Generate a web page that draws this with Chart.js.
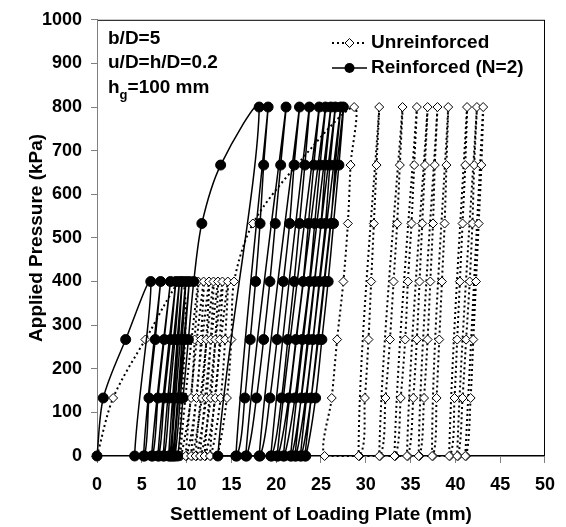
<!DOCTYPE html>
<html>
<head>
<meta charset="utf-8">
<script src="https://cdn.jsdelivr.net/npm/chart.js@4/dist/chart.umd.min.js"></script>
<style>
  html, body { margin: 0; padding: 0; background: #fff; }
  #wrap { width: 566px; height: 527px; }
</style>
</head>
<body>
<div id="wrap"><canvas id="chart" width="566" height="527"></canvas></div>
<script>
// --- DATA ---

// Reinforced (N=2): settlement (mm) and pressure (kPa), in test order
const reinfX = [
  0, 0.7, 3.2, 6.0, 4.2,
  5.3, 5.8, 6.5, 7.1, 5.2,
  6.2, 6.8, 7.5, 8.2, 6.1,
  6.9, 7.5, 8.2, 8.8, 6.8,
  7.5, 8.1, 8.7, 9.2, 7.4,
  8.1, 8.6, 9.1, 9.5, 8.0,
  8.4, 9.0, 9.5, 9.9, 8.3,
  8.7, 9.3, 9.8, 10.3, 8.6,
  9.0, 9.6, 10.2, 10.8,
  11.7, 13.8, 18.1, 13.5,
  15.6, 16.5, 17.1, 17.7, 18.2, 18.6, 19.1, 15.5,
  16.7, 17.8, 18.6, 19.3, 19.9, 20.5, 21.1, 16.6,
  18.2, 19.3, 20.1, 20.8, 21.5, 22.0, 22.6, 18.1,
  19.5, 20.6, 21.3, 22.0, 22.6, 23.2, 23.7, 19.4,
  20.2, 21.4, 22.2, 23.0, 23.6, 24.2, 24.8, 20.1,
  20.9, 22.1, 22.9, 23.7, 24.3, 24.9, 25.5, 20.8,
  21.7, 22.8, 23.6, 24.3, 25.0, 25.5, 26.1, 21.6,
  22.2, 23.3, 24.1, 24.8, 25.5, 26.0, 26.6, 22.1,
  22.8, 23.9, 24.7, 25.4, 26.1, 26.6, 27.2, 22.7,
  23.3, 24.4, 25.1, 25.8, 26.4, 27.0, 27.5, 23.2
];
const reinfY = [
  0, 133, 267, 400, 0,
  0, 133, 267, 400, 0,
  0, 133, 267, 400, 0,
  0, 133, 267, 400, 0,
  0, 133, 267, 400, 0,
  0, 133, 267, 400, 0,
  0, 133, 267, 400, 0,
  0, 133, 267, 400, 0,
  0, 133, 267, 400,
  533, 667, 800, 0,
  0, 133, 267, 400, 533, 667, 800, 0,
  0, 133, 267, 400, 533, 667, 800, 0,
  0, 133, 267, 400, 533, 667, 800, 0,
  0, 133, 267, 400, 533, 667, 800, 0,
  0, 133, 267, 400, 533, 667, 800, 0,
  0, 133, 267, 400, 533, 667, 800, 0,
  0, 133, 267, 400, 533, 667, 800, 0,
  0, 133, 267, 400, 533, 667, 800, 0,
  0, 133, 267, 400, 533, 667, 800, 0,
  0, 133, 267, 400, 533, 667, 800, 0
];

// Unreinforced
const unreX = [
  0, 1.8, 5.4, 9.6, 9.2,
  9.4, 10.5, 10.9, 11.3, 9.3,
  10.0, 11.1, 11.6, 11.9, 9.9,
  10.6, 11.7, 12.2, 12.5, 10.5,
  11.1, 12.2, 12.7, 13.0, 11.0,
  11.6, 12.7, 13.2, 13.5, 11.5,
  12.1, 13.2, 13.7, 14.0, 12.0,
  12.7, 13.8, 14.3, 14.6, 12.6,
  13.4, 14.5, 15.0, 15.3,
  17.4, 22.3, 28.7,
  28.3, 28.0, 27.5, 26.8, 26.2, 25.4,
  29.3, 29.9, 30.3, 30.6, 30.9, 31.2, 31.5, 29.2,
  31.6, 32.2, 32.7, 33.1, 33.5, 33.8, 34.1, 31.5,
  33.3, 33.9, 34.4, 34.7, 35.1, 35.4, 35.7, 33.2,
  34.7, 35.3, 35.7, 36.0, 36.3, 36.6, 36.9, 34.6,
  36.0, 36.5, 36.9, 37.2, 37.5, 37.7, 38.0, 35.9,
  37.5, 37.9, 38.2, 38.5, 38.8, 39.0, 39.2, 37.4,
  39.4, 39.9, 40.2, 40.5, 40.8, 41.1, 41.3, 39.3,
  40.3, 40.8, 41.2, 41.6, 41.9, 42.1, 42.4, 40.2,
  41.2, 41.7, 42.0, 42.3, 42.6, 42.9, 43.1, 41.1
];
const unreY = [
  0, 133, 267, 400, 0,
  0, 133, 267, 400, 0,
  0, 133, 267, 400, 0,
  0, 133, 267, 400, 0,
  0, 133, 267, 400, 0,
  0, 133, 267, 400, 0,
  0, 133, 267, 400, 0,
  0, 133, 267, 400, 0,
  0, 133, 267, 400,
  533, 667, 800,
  667, 533, 400, 267, 133, 0,
  0, 133, 267, 400, 533, 667, 800, 0,
  0, 133, 267, 400, 533, 667, 800, 0,
  0, 133, 267, 400, 533, 667, 800, 0,
  0, 133, 267, 400, 533, 667, 800, 0,
  0, 133, 267, 400, 533, 667, 800, 0,
  0, 133, 267, 400, 533, 667, 800, 0,
  0, 133, 267, 400, 533, 667, 800, 0,
  0, 133, 267, 400, 533, 667, 800, 0,
  0, 133, 267, 400, 533, 667, 800, 0
];

// axes
const xMin = 0, xMax = 50, xStep = 5;
const yMin = 0, yMax = 1000, yStep = 100;

const xTitle = 'Settlement of Loading Plate (mm)';
const yTitle = 'Applied Pressure (kPa)';
const notes = ['b/D=5', 'u/D=h/D=0.2'];
const seriesNames = ['Unreinforced', 'Reinforced (N=2)'];

// --- HELPERS ---
const FONT = '"Liberation Sans", Arial, Helvetica, sans-serif';
const toPoints = (xs, ys) => xs.map((x, i) => ({ x: x, y: ys[i] }));

function diamond(ctx, x, y, r) {
    ctx.beginPath();
    ctx.moveTo(x, y - r);
    ctx.lineTo(x + r, y);
    ctx.lineTo(x, y + r);
    ctx.lineTo(x - r, y);
    ctx.closePath();
    ctx.fillStyle = '#fff';
    ctx.fill();
    ctx.lineWidth = 1;
    ctx.setLineDash([]);
    ctx.strokeStyle = '#000';
    ctx.stroke();
}

// box, titles, notes and legend
const decor = {
    id: 'decor',
    beforeDraw(chart) {
        const { ctx, chartArea: a } = chart;
        ctx.save();
        ctx.fillStyle = '#fff';
        ctx.fillRect(0, 0, chart.width, chart.height);
        ctx.strokeStyle = '#000';
        ctx.lineWidth = 1;
        ctx.strokeRect(a.left + 0.5, a.top + 0.5, a.right - a.left - 1, a.bottom - a.top - 1);
        ctx.restore();
    },
    afterDraw(chart) {
        const { ctx, chartArea: a } = chart;
        ctx.save();
        ctx.fillStyle = '#000';
        ctx.font = 'bold 19px ' + FONT;
        ctx.textBaseline = 'middle';

        // axis titles
        ctx.textAlign = 'center';
        ctx.fillText(xTitle, (a.left + a.right) / 2, 515);
        ctx.save();
        ctx.translate(37, (a.top + a.bottom) / 2);
        ctx.rotate(-Math.PI / 2);
        ctx.fillText(yTitle, 0, 0);
        ctx.restore();

        // notes top-left
        ctx.textAlign = 'left';
        ctx.fillText(notes[0], 108, 39);
        ctx.fillText(notes[1], 108, 63);
        let x = 108;
        ctx.fillText('h', x, 88);
        x += ctx.measureText('h').width;
        ctx.font = 'bold 13px ' + FONT;
        ctx.fillText('g', x, 95);
        x += ctx.measureText('g').width;
        ctx.font = 'bold 19px ' + FONT;
        ctx.fillText('=100 mm', x, 88);

        // legend
        ctx.strokeStyle = '#000';
        ctx.lineWidth = 2;
        ctx.setLineDash([2, 3]);
        ctx.beginPath();
        ctx.moveTo(332, 43);
        ctx.lineTo(367, 43);
        ctx.stroke();
        diamond(ctx, 349.5, 43, 4.5);

        ctx.setLineDash([]);
        ctx.lineWidth = 1.5;
        ctx.beginPath();
        ctx.moveTo(332, 68);
        ctx.lineTo(367, 68);
        ctx.stroke();
        ctx.beginPath();
        ctx.arc(349.5, 68, 5, 0, Math.PI * 2);
        ctx.fillStyle = '#000';
        ctx.fill();

        ctx.fillStyle = '#000';
        ctx.fillText(seriesNames[0], 371, 43);
        ctx.fillText(seriesNames[1], 371, 68);
        ctx.restore();
    }
};

// --- CHART ---
const tickFont = { family: FONT, size: 18, weight: 'bold' };

new Chart(document.getElementById('chart').getContext('2d'), {
    type: 'scatter',
    data: {
        datasets: [
            {
                label: seriesNames[1],
                data: toPoints(reinfX, reinfY),
                showLine: true,
                tension: 0.3,
                borderColor: '#000',
                borderWidth: 1.5,
                pointStyle: 'circle',
                pointRadius: 5,
                pointBackgroundColor: '#000',
                pointBorderColor: '#000',
                pointBorderWidth: 1,
                clip: false
            },
            {
                label: seriesNames[0],
                data: toPoints(unreX, unreY),
                showLine: true,
                tension: 0.3,
                borderColor: '#000',
                borderWidth: 2,
                borderDash: [2, 3],
                pointStyle: 'rectRot',
                pointRadius: 4.5,
                pointBackgroundColor: '#fff',
                pointBorderColor: '#000',
                pointBorderWidth: 1,
                clip: false
            }
        ]
    },
    options: {
        responsive: false,
        animation: false,
        devicePixelRatio: 1,
        layout: { padding: { left: 0, right: 16, top: 15, bottom: 0 } },
        plugins: {
            legend: { display: false },
            tooltip: { enabled: false }
        },
        scales: {
            x: {
                type: 'linear',
                min: xMin, max: xMax,
                afterFit(s) { s.height = 71; },
                ticks: { stepSize: xStep, color: '#000', font: tickFont, padding: 11, maxRotation: 0, autoSkip: false,
                         callback: v => String(v) },
                grid: { drawOnChartArea: false, color: '#808080', tickColor: '#808080', tickLength: 7 },
                border: { color: '#808080', width: 1 }
            },
            y: {
                min: yMin, max: yMax,
                afterFit(s) { s.width = 97; },
                ticks: { stepSize: yStep, color: '#000', font: tickFont, padding: 9, autoSkip: false,
                         callback: v => String(v) },
                grid: { drawOnChartArea: false, color: '#808080', tickColor: '#808080', tickLength: 6 },
                border: { color: '#808080', width: 1 }
            }
        }
    },
    plugins: [decor]
});
</script>
</body>
</html>
